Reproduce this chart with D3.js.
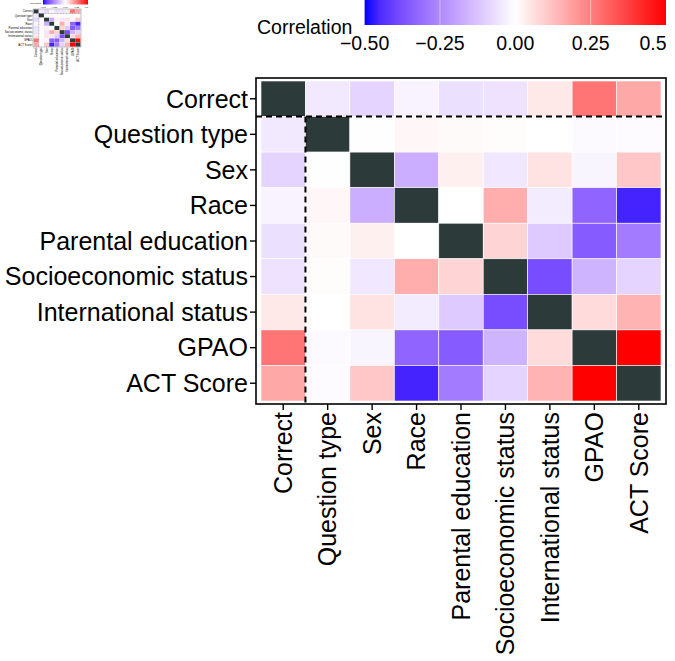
<!DOCTYPE html>
<html>
<head>
<meta charset="utf-8">
<script src="https://cdn.jsdelivr.net/npm/d3@7"></script>
<style>
  body { margin: 0; background: #fff; }
  svg { display: block; font-family: 'Liberation Sans', Arial, Helvetica, sans-serif; }
</style>
</head>
<body>
<svg id="chart" width="675" height="661"></svg>
<script>
// variables, in row (top to bottom) and column (left to right) order
const variables = ['Correct', 'Question type', 'Sex', 'Race', 'Parental education',
  'Socioeconomic status', 'International status', 'GPAO', 'ACT Score']

// correlation matrix (null = diagonal)
const rowCorrect = [null, -0.045, -0.09, -0.025, -0.065, -0.06, 0.045, 0.27, 0.17]
const rowQuestion = [-0.045, null, -0.005, 0.015, 0.01, 0.005, 0, -0.01, -0.008]
const rowSex = [-0.09, -0.005, null, -0.17, 0.03, -0.05, 0.055, -0.02, 0.11]
const rowRace = [-0.025, 0.015, -0.17, null, 0, 0.16, -0.04, -0.33, -0.46]
const rowParent = [-0.065, 0.01, 0.03, 0, null, 0.085, -0.11, -0.35, -0.28]
const rowSocio = [-0.06, 0.005, -0.05, 0.16, 0.085, null, -0.38, -0.16, -0.09]
const rowIntl = [0.045, 0, 0.055, -0.04, -0.11, -0.38, null, 0.07, 0.15]
const rowGpao = [0.27, -0.01, -0.02, -0.33, -0.35, -0.16, 0.07, null, 0.55]
const rowAct = [0.17, -0.008, 0.11, -0.46, -0.28, -0.09, 0.15, 0.55, null]
const corrRows = [rowCorrect, rowQuestion, rowSex, rowRace, rowParent, rowSocio, rowIntl, rowGpao, rowAct]

// legend
const legendTicks = [-0.5, -0.25, 0, 0.25, 0.5]
const legendLabels = ['\u22120.50', '\u22120.25', '0.00', '0.25', '0.5']
const legendTitle = 'Correlation'

const diagColor = '#2d3a3a'
const blueSide = d3.interpolateLab('#ffffff', '#0000ff')
const redSide = d3.interpolateRgb('#ffffff', '#ff0000')

function fillFor (v) {
  if (v === null) return diagColor
  var c = Math.max(-0.5, Math.min(0.5, v))
  return c < 0 ? blueSide(-c / 0.5) : redSide(c / 0.5)
}

var cells = []
corrRows.forEach(function (row, i) {
  row.forEach(function (v, j) {
    cells.push({ row: variables[i], col: variables[j], value: v })
  })
})

/**
 * Draws the whole figure (legend + heatmap) inside g using the layout s
 */
function drawChart (g, s, id) {
  var x = d3.scaleBand().domain(variables).range([s.x0 + s.insetX, s.x1 - s.insetX])
  var y = d3.scaleBand().domain(variables).range([s.y0 + s.insetY, s.y1 - s.insetY])

  // legend
  var lx = d3.scaleLinear().domain([-0.5, 0.5]).range([s.lx0, s.lx1])
  var grad = g.append('linearGradient').attr('id', 'grad' + id)
    .attr('x1', '0%').attr('x2', '100%').attr('y1', '0%').attr('y2', '0%')
  d3.range(0, 1.0001, 0.05).forEach(function (t) {
    grad.append('stop').attr('offset', (t * 100) + '%').attr('stop-color', fillFor(-0.5 + t))
  })
  g.append('rect')
    .attr('x', s.lx0).attr('y', s.ly0)
    .attr('width', s.lx1 - s.lx0).attr('height', s.ly1 - s.ly0)
    .attr('fill', 'url(#grad' + id + ')')
  g.selectAll('.ltick' + id)
    .data(legendTicks.slice(1, -1)).enter()
    .append('line')
    .attr('x1', d => lx(d)).attr('x2', d => lx(d))
    .attr('y1', s.ly0).attr('y2', s.ly1)
    .attr('stroke', '#fff').attr('stroke-opacity', 0.6).attr('stroke-width', s.sw * 0.8)
  g.append('text')
    .attr('x', s.titleX).attr('y', s.titleY)
    .attr('font-size', s.legendFont)
    .attr('fill', '#000')
    .text(legendTitle)
  g.selectAll('.llab' + id)
    .data(legendTicks).enter()
    .append('text')
    .attr('x', (d, i) => i === legendTicks.length - 1 ? lx(d) + s.sw * 0.5 : lx(d))
    .attr('y', s.ltextY)
    .attr('text-anchor', (d, i) => i === legendTicks.length - 1 ? 'end' : 'middle')
    .attr('font-size', s.legendFont)
    .attr('fill', '#000')
    .text((d, i) => legendLabels[i])

  // cells
  g.selectAll('.cell' + id)
    .data(cells).enter()
    .append('rect')
    .attr('x', d => x(d.col)).attr('y', d => y(d.row))
    .attr('width', x.bandwidth()).attr('height', y.bandwidth())
    .attr('fill', d => fillFor(d.value))
    .attr('stroke', '#fff').attr('stroke-width', s.sw * 0.6)

  // dashed separators
  g.append('line')
    .attr('x1', s.x0).attr('x2', s.x1)
    .attr('y1', y(variables[1])).attr('y2', y(variables[1]))
    .attr('stroke', '#000').attr('stroke-width', s.sw * 2)
    .attr('stroke-dasharray', (s.sw * 6) + ',' + (s.sw * 4))
  g.append('line')
    .attr('x1', x(variables[1])).attr('x2', x(variables[1]))
    .attr('y1', y(variables[1])).attr('y2', s.y1)
    .attr('stroke', '#000').attr('stroke-width', s.sw * 2)
    .attr('stroke-dasharray', (s.sw * 6) + ',' + (s.sw * 4))

  // panel border
  g.append('rect')
    .attr('x', s.x0).attr('y', s.y0)
    .attr('width', s.x1 - s.x0).attr('height', s.y1 - s.y0)
    .attr('fill', 'none').attr('stroke', '#000').attr('stroke-width', s.sw * 1.6)

  // axes
  var ya = g.append('g').attr('transform', 'translate(' + s.x0 + ',0)')
    .call(d3.axisLeft(y).tickSize(s.tick).tickPadding(s.pad))
  var xa = g.append('g').attr('transform', 'translate(0,' + s.y1 + ')')
    .call(d3.axisBottom(x).tickSize(s.tick).tickPadding(s.pad))
  ;[ya, xa].forEach(function (a) {
    a.select('.domain').remove()
    a.selectAll('line').attr('stroke', '#000').attr('stroke-width', s.sw * 1.4)
    a.selectAll('text').attr('font-size', s.axisFont).attr('fill', '#000')
      .attr('font-family', null)
  })
  ya.attr('font-family', null).attr('font-size', null)
  xa.attr('font-family', null).attr('font-size', null)
  ya.selectAll('text').attr('dy', '0.35em')
  xa.selectAll('text')
    .attr('text-anchor', 'end')
    .attr('transform', 'rotate(-90)')
    .attr('x', -(s.tick + s.pad))
    .attr('y', 0)
    .attr('dy', '0.35em')
}

var svg = d3.select('#chart')

// main figure
drawChart(svg.append('g'), {
  x0: 256, x1: 666, y0: 78, y1: 404, insetX: 5, insetY: 3,
  lx0: 364.6, lx1: 666, ly0: 0, ly1: 25,
  titleX: 257, titleY: 34, ltextY: 50, legendFont: 19.5,
  axisFont: 25, tick: 6, pad: 2, sw: 1
}, 'm')

// small thumbnail in the top-left corner
drawChart(svg.append('g'), {
  x0: 33, x1: 81, y0: 9, y1: 47, insetX: 0.6, insetY: 0.4,
  lx0: 43, lx1: 88, ly0: 0, ly1: 4.5,
  titleX: 30, titleY: 3.5, ltextY: 7.5, legendFont: 2.3,
  axisFont: 2.8, tick: 0.8, pad: 0.3, sw: 0.15
}, 't')
</script>
</body>
</html>
